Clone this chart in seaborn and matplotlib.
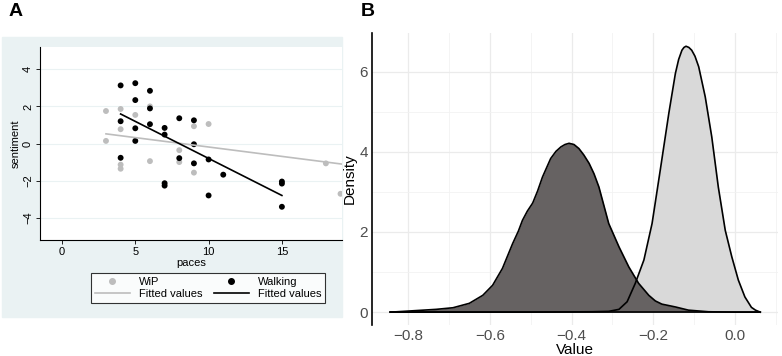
import numpy as np
import pandas as pd
import matplotlib
matplotlib.use("Agg")
import matplotlib.pyplot as plt
from matplotlib.lines import Line2D
from matplotlib.patches import Rectangle
from matplotlib.ticker import MultipleLocator
import seaborn as sns

plt.rcParams["font.family"] = ["Liberation Sans", "DejaVu Sans"]

# Panel A: sentiment vs paces
walk_paces = [4, 4, 4, 5, 5, 5, 5, 6, 6, 6, 7, 7, 7, 7, 8, 8, 9, 9, 9, 10, 10, 11, 15, 15, 15]
walk_sent = [3.13, 1.2, -0.77, 3.25, 2.34, 0.82, 0.14, 2.84, 1.89, 1.04, 0.84, 0.48, -2.14, -2.27,
             1.36, -0.79, 1.25, -0.04, -1.07, -0.86, -2.8, -1.68, -2.05, -2.16, -3.41]
wip_paces = [3, 3, 4, 4, 4, 4, 5, 6, 6, 8, 8, 9, 9, 10, 18, 19]
wip_sent = [1.75, 0.14, 1.86, 0.77, -1.14, -1.36, 1.54, 2.0, -0.95, -0.36, -1.0, 0.93, -1.57, 1.05,
            -1.07, -2.71]
# fitted values
walk_fit_x = [4, 15]
walk_fit_y = [1.59, -2.80]
wip_fit_x = [3, 19.1]
wip_fit_y = [0.52, -1.11]

# Panel B: density curves
dark_x = [-0.843, -0.731, -0.690, -0.650, -0.617, -0.593, -0.569, -0.544, -0.530, -0.520, -0.508,
          -0.495, -0.483, -0.471, -0.451, -0.438, -0.426, -0.416, -0.406, -0.394, -0.382, -0.370,
          -0.357, -0.345, -0.333, -0.309, -0.284, -0.260, -0.236, -0.211, -0.195, -0.179, -0.146,
          -0.114, -0.065, 0.0, 0.06]
dark_y = [0.0, 0.07, 0.11, 0.22, 0.42, 0.67, 1.09, 1.71, 2.02, 2.29, 2.52, 2.72, 3.02, 3.37, 3.83,
          4.01, 4.12, 4.18, 4.21, 4.18, 4.08, 3.92, 3.71, 3.45, 3.12, 2.21, 1.63, 1.13, 0.72, 0.42,
          0.28, 0.2, 0.13, 0.05, 0.01, 0.0, 0.0]
light_x = [-0.843, -0.5, -0.35, -0.309, -0.284, -0.264, -0.244, -0.223, -0.203, -0.183, -0.162,
           -0.146, -0.138, -0.130, -0.125, -0.120, -0.113, -0.106, -0.098, -0.089, -0.073, -0.057,
           -0.041, -0.024, -0.008, 0.008, 0.024, 0.040, 0.050, 0.057, 0.062]
light_y = [0.0, 0.0, 0.01, 0.02, 0.07, 0.26, 0.72, 1.30, 2.21, 3.54, 4.96, 5.95, 6.30, 6.53, 6.60,
           6.63, 6.60, 6.53, 6.38, 6.12, 5.37, 4.37, 3.12, 2.04, 1.38, 0.80, 0.38, 0.12, 0.05, 0.02,
           0.0]

W, H = 782, 356
fig = plt.figure(figsize=(W / 100, H / 100), dpi=100)


def fx(px):
    return px / W


def fy(py):
    return 1 - py / H


# light blue Stata background for panel A
fig.patches.append(Rectangle((fx(2), fy(317)), fx(342) - fx(2), fy(37) - fy(317),
                             transform=fig.transFigure, color="#EAF2F3", zorder=-5))

axA = fig.add_axes([fx(40), fy(240), fx(342) - fx(40), fy(47) - fy(240)])
axA.set_facecolor("white")
scat = pd.DataFrame({
    "paces": wip_paces + walk_paces,
    "sentiment": wip_sent + walk_sent,
    "group": ["WiP"] * len(wip_paces) + ["Walking"] * len(walk_paces),
})
sns.scatterplot(data=scat, x="paces", y="sentiment", hue="group",
                palette={"WiP": "#BDBDBD", "Walking": "black"},
                s=18, edgecolor="none", legend=False, ax=axA, zorder=3)
sns.lineplot(x=wip_fit_x, y=wip_fit_y, color="#BDBDBD", lw=1.2, ax=axA, zorder=4)
sns.lineplot(x=walk_fit_x, y=walk_fit_y, color="black", lw=1.2, ax=axA, zorder=4)
axA.set_xlim(-1.5, 19.1)
axA.set_ylim(-5.2, 5.2)
axA.set_xticks([0, 5, 10, 15])
axA.set_yticks([-4, -2, 0, 2, 4])
axA.set_yticklabels(["\u22124", "\u22122", "0", "2", "4"], rotation=90, va="center")
axA.grid(axis="y", color="#EAF2F3", lw=0.8)
axA.set_axisbelow(True)
for s in ["top", "right"]:
    axA.spines[s].set_visible(False)
for s in ["left", "bottom"]:
    axA.spines[s].set_linewidth(0.8)
axA.tick_params(labelsize=8, length=3, width=0.6, pad=2)
axA.set_xlabel("paces", fontsize=8, labelpad=1)
axA.set_ylabel("sentiment", fontsize=8, labelpad=2)

handles = [
    Line2D([], [], ls="none", marker="o", ms=4, color="#BDBDBD"),
    Line2D([], [], color="#BDBDBD", lw=1.2),
    Line2D([], [], ls="none", marker="o", ms=4, color="black"),
    Line2D([], [], color="black", lw=1.2),
]
labels = ["WiP", "Fitted values", "Walking", "Fitted values"]
leg = fig.legend(handles, labels, ncol=2, loc="center", bbox_to_anchor=(fx(208), fy(288)),
                 fontsize=8, frameon=True, fancybox=False, edgecolor="black",
                 handlelength=3.2, columnspacing=1.0, labelspacing=0.25, borderpad=0.3,
                 handletextpad=0.8, borderaxespad=0)
leg.get_frame().set_linewidth(0.8)

# Panel B: light fill first, dark fill over it, both outlines on top
axB = fig.add_axes([fx(372), fy(325), fx(778) - fx(372), fy(33) - fy(325)])
axB.fill_between(light_x, light_y, color="#D9D9D9", zorder=2, lw=0)
axB.fill_between(dark_x, dark_y, color="#666262", zorder=3, lw=0)
sns.lineplot(x=light_x, y=light_y, color="black", lw=1.2, ax=axB, zorder=4, sort=False,
             solid_joinstyle="round")
sns.lineplot(x=dark_x, y=dark_y, color="black", lw=1.2, ax=axB, zorder=5, sort=False,
             solid_joinstyle="round")
axB.plot([dark_x[0], light_x[-1]], [0, 0], color="black", lw=1.2, zorder=6)
axB.set_xlim(-0.888, 0.105)
axB.set_ylim(-0.32, 6.96)
axB.set_xticks([-0.8, -0.6, -0.4, -0.2, 0.0])
axB.set_xticklabels(["\u22120.8", "\u22120.6", "\u22120.4", "\u22120.2", "0.0"])
axB.set_yticks([0, 2, 4, 6])
axB.xaxis.set_minor_locator(MultipleLocator(0.1))
axB.yaxis.set_minor_locator(MultipleLocator(1))
axB.grid(which="major", color="#EBEBEB", lw=0.9)
axB.grid(which="minor", color="#F2F2F2", lw=0.6)
axB.set_axisbelow(True)
for s in ["top", "right", "bottom"]:
    axB.spines[s].set_visible(False)
axB.spines["left"].set_linewidth(1.2)
axB.tick_params(which="both", length=0, labelsize=11, labelcolor="#4D4D4D", pad=3)
axB.set_xlabel("Value", fontsize=11, labelpad=0)
axB.set_ylabel("Density", fontsize=11, labelpad=2)

fig.text(fx(9), fy(11), "A", fontsize=14, fontweight="bold", va="center", ha="left")
fig.text(fx(361), fy(11), "B", fontsize=14, fontweight="bold", va="center", ha="left")

fig.savefig("out.png", dpi=100)
